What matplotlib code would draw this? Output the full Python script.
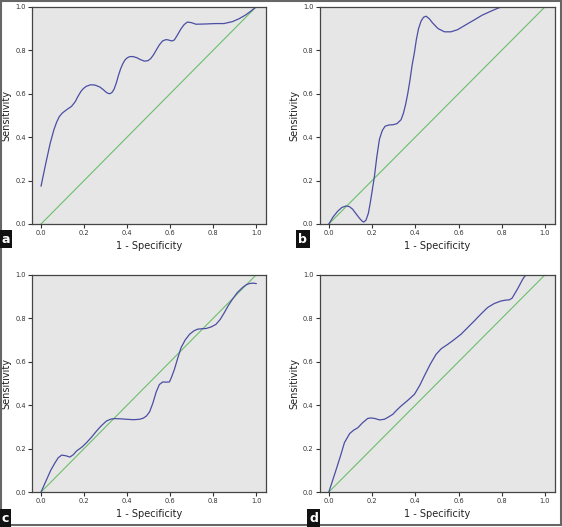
import matplotlib
matplotlib.use('Agg')
import matplotlib.pyplot as plt
from matplotlib.patches import Rectangle

# ROC curves (1 - specificity, sensitivity)
a_x = [0.0, 0.02, 0.042, 0.06, 0.072, 0.085, 0.10, 0.12, 0.142, 0.16, 0.17, 0.185, 0.196, 0.21, 0.23, 0.25, 0.273,
       0.29, 0.30, 0.31, 0.32, 0.33, 0.34, 0.35, 0.36, 0.37, 0.38, 0.39, 0.40, 0.413, 0.427, 0.445, 0.46, 0.48,
       0.497, 0.51, 0.522, 0.535, 0.55, 0.565, 0.58, 0.59, 0.60, 0.61, 0.62, 0.635, 0.65, 0.665, 0.68, 0.70, 0.72,
       0.76, 0.81, 0.85, 0.89, 0.92, 0.95, 0.975, 1.0]
a_y = [0.175, 0.27, 0.37, 0.435, 0.468, 0.495, 0.512, 0.527, 0.542, 0.565, 0.585, 0.61, 0.623, 0.634, 0.641, 0.64,
       0.631, 0.618, 0.609, 0.602, 0.60, 0.606, 0.622, 0.65, 0.685, 0.715, 0.738, 0.755, 0.765, 0.771, 0.771, 0.766,
       0.758, 0.75, 0.752, 0.762, 0.778, 0.8, 0.825, 0.843, 0.849, 0.848, 0.845, 0.843, 0.848, 0.872, 0.898, 0.918,
       0.93, 0.927, 0.92, 0.921, 0.923, 0.923, 0.932, 0.945, 0.962, 0.98, 1.0]

b_x = [0.0, 0.02, 0.042, 0.06, 0.08, 0.095, 0.11, 0.125, 0.142, 0.155, 0.162, 0.172, 0.183, 0.192, 0.20, 0.211,
       0.222, 0.234, 0.247, 0.26, 0.278, 0.296, 0.315, 0.334, 0.345, 0.355, 0.365, 0.375, 0.385, 0.396, 0.405,
       0.415, 0.427, 0.438, 0.45, 0.465, 0.48, 0.505, 0.535, 0.565, 0.596, 0.635, 0.673, 0.71, 0.75, 0.78, 0.80,
       1.0]
b_y = [0.0, 0.033, 0.06, 0.076, 0.083, 0.08, 0.068, 0.048, 0.026, 0.012, 0.009, 0.018, 0.05, 0.1, 0.15, 0.22, 0.31,
       0.39, 0.43, 0.45, 0.456, 0.457, 0.462, 0.48, 0.51, 0.55, 0.60, 0.66, 0.73, 0.79, 0.85, 0.9, 0.935, 0.952,
       0.957, 0.945, 0.926, 0.9, 0.885, 0.885, 0.895, 0.918, 0.94, 0.962, 0.98, 0.993, 1.0, 1.0]

c_x = [0.0, 0.026, 0.045, 0.065, 0.08, 0.096, 0.115, 0.134, 0.15, 0.165, 0.19, 0.211, 0.235, 0.258, 0.28, 0.304,
       0.325, 0.343, 0.37, 0.397, 0.43, 0.458, 0.475, 0.49, 0.505, 0.52, 0.535, 0.55, 0.566, 0.58, 0.597, 0.607,
       0.62, 0.635, 0.651, 0.67, 0.69, 0.71, 0.728, 0.748, 0.767, 0.79, 0.813, 0.833, 0.852, 0.87, 0.89, 0.912,
       0.937, 0.955, 0.968, 0.985, 1.0]
c_y = [0.0, 0.058, 0.1, 0.135, 0.158, 0.17, 0.167, 0.161, 0.172, 0.189, 0.207, 0.227, 0.253, 0.281, 0.305, 0.327,
       0.336, 0.338, 0.337, 0.335, 0.333, 0.335, 0.34, 0.35, 0.37, 0.41, 0.46, 0.495, 0.507, 0.506, 0.507, 0.53,
       0.565, 0.615, 0.665, 0.7, 0.726, 0.742, 0.75, 0.752, 0.753, 0.76, 0.772, 0.795, 0.826, 0.858, 0.888, 0.918,
       0.942, 0.955, 0.96, 0.962, 0.96]

d_x = [0.0, 0.034, 0.055, 0.072, 0.096, 0.115, 0.134, 0.155, 0.18, 0.195, 0.211, 0.235, 0.257, 0.275, 0.296, 0.315,
       0.334, 0.365, 0.396, 0.42, 0.442, 0.47, 0.496, 0.52, 0.55, 0.58, 0.612, 0.643, 0.673, 0.705, 0.735, 0.765,
       0.797, 0.82, 0.835, 0.848, 0.858, 0.874, 0.889, 0.9, 0.912]
d_y = [0.0, 0.104, 0.17, 0.227, 0.269, 0.285, 0.296, 0.318, 0.339, 0.341, 0.339, 0.332, 0.335, 0.345, 0.358, 0.378,
       0.396, 0.422, 0.45, 0.49, 0.535, 0.59, 0.634, 0.66, 0.68, 0.702, 0.727, 0.758, 0.788, 0.821, 0.85, 0.868,
       0.88, 0.884, 0.885, 0.893, 0.91, 0.937, 0.965, 0.985, 1.0]

ref = [0.0, 1.0]
ticks = [0.0, 0.2, 0.4, 0.6, 0.8, 1.0]
tick_labels = ['0.0', '0.2', '0.4', '0.6', '0.8', '1.0']

panels = [
    ('a', a_x, a_y, [0.057, 0.575, 0.416, 0.412], [0.002, 0.53]),
    ('b', b_x, b_y, [0.569, 0.575, 0.418, 0.412], [0.531, 0.53]),
    ('c', c_x, c_y, [0.057, 0.0664, 0.416, 0.412], [0.002, 0.0]),
    ('d', d_x, d_y, [0.569, 0.0664, 0.418, 0.412], [0.55, 0.0]),
]

fig = plt.figure(figsize=(5.62, 5.27), dpi=100)
fig.patch.set_facecolor('white')

for name, xs, ys, pos, lab in panels:
    ax = fig.add_axes(pos)
    ax.set_facecolor('#e6e6e6')
    ax.plot(ref, ref, color='#6bbf6b', lw=0.8)
    ax.plot(xs, ys, color='#4b4ea3', lw=0.9)
    ax.set_xlim(-0.042, 1.045)
    ax.set_ylim(0, 1)
    ax.set_xticks(ticks)
    ax.set_xticklabels(tick_labels)
    ax.set_yticks(ticks)
    ax.set_yticklabels(tick_labels)
    ax.tick_params(labelsize=4.8, length=3, width=0.8, pad=1.5, colors='#333333')
    for s in ax.spines.values():
        s.set_color('#444444')
        s.set_linewidth(0.9)
    ax.set_xlabel('1 - Specificity', fontsize=7, labelpad=3.5, color='#222222')
    ax.set_ylabel('Sensitivity', fontsize=7, labelpad=2.5, color='#222222')
    fig.text(lab[0], lab[1] + 0.004, name, color='white', fontsize=9, fontweight='bold',
             ha='left', va='bottom',
             bbox=dict(boxstyle='square,pad=0.2', facecolor='#111111', edgecolor='none'))

# outer frame of the figure
fig.patches.append(Rectangle((0.002, 0.003), 0.996, 0.995, transform=fig.transFigure, fill=False,
                             edgecolor='#666666', linewidth=1.5))

fig.savefig('out.png', dpi=100)
plt.close(fig)
